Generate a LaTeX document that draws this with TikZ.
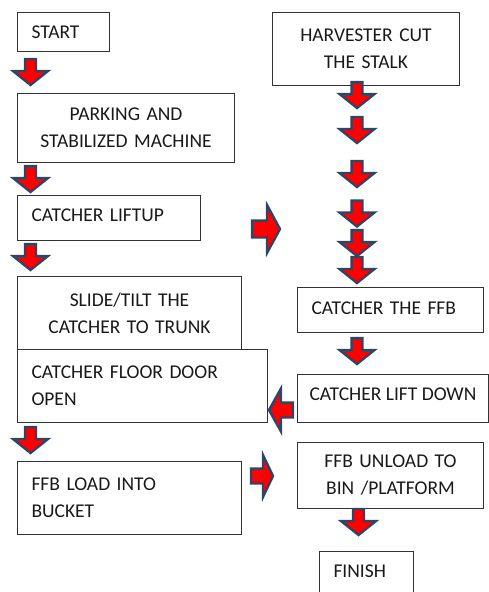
\documentclass[tikz,border=0pt]{standalone}
\usepackage{fontspec}
\setmainfont{Carlito}
\usepackage{tikz}
\usetikzlibrary{positioning}
\definecolor{arrowblue}{RGB}{45,70,104}
\definecolor{arrowred}{RGB}{255,0,0}
\tikzset{
  alen/.store in=\alen, awid/.store in=\awid,
  ashaft/.store in=\ashaft, ahead/.store in=\ahead,
  alen=26, awid=35, ashaft=11, ahead=14,
  blockarrow/.pic={
    \coordinate (-c) at (0,0);
    \draw[draw=arrowblue, line width=2.4pt, fill=arrowred, line join=miter]
      (-\alen/2,-\ashaft/2) -- (\alen/2-\ahead,-\ashaft/2) -- (\alen/2-\ahead,-\awid/2)
      -- (\alen/2,0) -- (\alen/2-\ahead,\awid/2) -- (\alen/2-\ahead,\ashaft/2)
      -- (-\alen/2,\ashaft/2) -- cycle;
  },
  stepbox/.style={draw=black!80, line width=1pt, rectangle, anchor=north west,
    font=\fontsize{19.5}{27}\selectfont, text=black!90, inner xsep=14pt, inner ysep=0pt},
  leftbox/.style={stepbox, align=left},
  midbox/.style={stepbox, align=center},
}
\begin{document}
\begin{tikzpicture}[x=1pt, y=-1pt]
\useasboundingbox (0,0) rectangle (488,592);

% left column
\node[leftbox, minimum width=92, minimum height=39, text width=64] (start) at (17,12) {START};
\node[midbox, minimum width=217, minimum height=69, text width=189] (parking) at (17,93) {PARKING AND\\STABILIZED MACHINE};
\node[leftbox, minimum width=183, minimum height=45, text width=155, text depth=5pt] (liftup) at (17,195) {CATCHER LIFTUP};
\node[midbox, minimum width=224, minimum height=73, text width=196] (slide) at (17,276) {SLIDE/TILT THE\\CATCHER TO TRUNK};
\node[leftbox, minimum width=250, minimum height=73, text width=222] (door) at (17,349) {CATCHER FLOOR DOOR\\OPEN};
\node[leftbox, minimum width=224, minimum height=73, text width=196] (load) at (17,461) {FFB LOAD INTO\\BUCKET};

% right column
\node[midbox, minimum width=187, minimum height=73, text width=159] (cut) at (272,12) {HARVESTER CUT\\THE STALK};
\node[leftbox, minimum width=186, minimum height=45, text width=158, text depth=4pt] (catchffb) at (297,287) {CATCHER THE FFB};
\node[stepbox, minimum width=191, minimum height=48, inner xsep=4pt, text depth=8pt] (liftdown) at (297,374) {CATCHER LIFT DOWN};
\node[midbox, minimum width=186, minimum height=66, text width=158] (unload) at (297,442) {FFB UNLOAD TO\\BIN /PLATFORM};
\node[leftbox, minimum width=94, text width=66, text height=26pt, text depth=24pt] (finish) at (319,551) {FINISH};

% block arrows, down
\foreach \n/\x/\y in {l1/30.5/72, l2/30.5/179, l3/30.5/257, l4/30.5/440,
    r1/357/95, r2/357/130, r3/357/174, r4/357/213.5, r5/357/243, r6/357/270,
    r7/357/351, r8/358.5/522}
  \pic[rotate=-90] (\n) at (\x,\y) {blockarrow};

% block arrows, sideways
\pic[alen=28, awid=48, ashaft=17, ahead=13] (s1) at (266,229) {blockarrow};
\pic[alen=22, awid=42, ashaft=15, ahead=10] (s2) at (262,476) {blockarrow};
\pic[rotate=180, alen=24, awid=43, ashaft=15, ahead=12] (s3) at (281,410) {blockarrow};
\end{tikzpicture}
\end{document}
